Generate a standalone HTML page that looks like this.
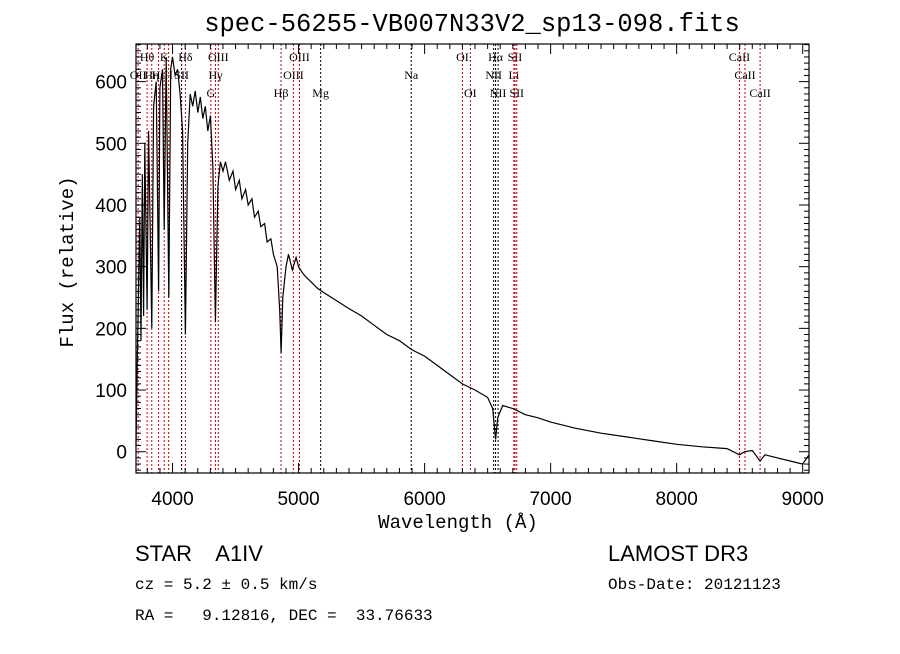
<!DOCTYPE html>
<html><head><meta charset="utf-8"><style>
body{margin:0;background:#fff}
svg text{font-family:"Liberation Sans",sans-serif;white-space:pre}
.lbl{font-family:"Liberation Serif",serif;font-size:12px}
.mono{font-family:"Liberation Mono",monospace}
</style></head><body>
<svg id="chart" width="900" height="649" viewBox="0 0 900 649">
<rect width="900" height="649" fill="#fff"/>
<text x="472" y="31" text-anchor="middle" font-size="25.5" class="mono">spec-56255-VB007N33V2_sp13-098.fits</text>
<g id="lines"></g>
<g id="axes"></g>
<path id="spec" fill="none" stroke="#000" stroke-width="1.2"/>
<rect x="136" y="44" width="673" height="429" fill="none" stroke="#000" stroke-width="1.2"/>
<text x="458" y="528" text-anchor="middle" font-size="19" class="mono">Wavelength (Å)</text>
<text transform="translate(73,262) rotate(-90)" text-anchor="middle" font-size="19" class="mono">Flux (relative)</text>
<text x="135" y="561" font-size="22" font-family="Liberation Serif">STAR    A1IV</text>
<text x="135" y="589" font-size="16" class="mono">cz = 5.2 ± 0.5 km/s</text>
<text x="135" y="620" font-size="16" class="mono">RA =   9.12816, DEC =  33.76633</text>
<text x="608" y="561" font-size="22" font-family="Liberation Serif">LAMOST DR3</text>
<text x="608" y="589" font-size="16" class="mono">Obs-Date: 20121123</text>
</svg>
<script>
const wavelengths=[3710,3720,3740,3750,3760,3770,3780,3798,3810,3835,3850,3870,3889,3900,3920,3934,3950,3970,3985,4000,4020,4040,4060,4080,4102,4120,4140,4160,4180,4200,4220,4240,4260,4280,4300,4320,4340,4360,4380,4400,4420,4450,4480,4500,4530,4550,4580,4600,4630,4650,4680,4700,4730,4750,4780,4800,4830,4850,4861,4875,4900,4920,4950,4980,5000,5030,5050,5100,5150,5200,5300,5400,5500,5600,5700,5800,5900,6000,6100,6200,6300,6400,6500,6540,6563,6580,6620,6700,6800,6900,7000,7200,7400,7600,7800,8000,8200,8400,8498,8540,8600,8662,8700,8800,8900,9000,9050];
const fluxes=[10,150,380,180,450,220,500,230,520,200,560,600,260,590,620,360,640,250,620,640,610,620,580,520,190,500,580,560,585,550,575,540,560,520,545,460,210,430,470,455,470,440,455,425,440,410,425,400,410,380,390,365,370,340,345,320,300,230,160,250,300,320,295,315,300,290,285,275,265,258,245,232,220,205,190,180,165,155,140,125,110,100,88,70,20,55,75,70,60,55,48,38,30,24,18,12,8,5,-5,0,2,-15,-5,-10,-15,-20,-5];
const lineNames=["OII","Hθ","Hη","Hε","K","H","SII","Hδ","G","Hγ","OIII","Hβ","OIII","OIII","Mg","Na","OI","OI","NII","Hα","NII","Li","SII","SII","CaII","CaII","CaII"];
const lineWaves=[3727,3798,3835,3889,3934,3969,4072,4102,4304,4341,4363,4861,4959,5007,5175,5894,6300,6363,6548,6563,6583,6708,6717,6731,8498,8542,8662];
const lineRows=[1,0,1,1,0,1,1,0,2,1,0,2,1,0,2,1,0,2,1,0,2,1,0,2,0,1,2];
const lineRed=[1,1,1,1,1,1,0,1,1,1,1,1,1,1,0,0,1,1,0,0,0,1,1,1,1,1,1];
const xTicks=[4000,5000,6000,7000,8000,9000];
const yTicks=[0,100,200,300,400,500,600];
const X0=136,X1=809,Y0=44,Y1=473,WMIN=3710,WMAX=9050,FMIN=-34.5,FMAX=661;
const xs=w=>X0+(w-WMIN)/(WMAX-WMIN)*(X1-X0);
const ys=f=>Y1-(f-FMIN)/(FMAX-FMIN)*(Y1-Y0);
const NS="http://www.w3.org/2000/svg";
function mk(t,a,p){const e=document.createElementNS(NS,t);for(const k in a)e.setAttribute(k,a[k]);p.appendChild(e);return e;}
const ax=document.getElementById('axes');
for(let w=3800;w<=9000;w+=100){const x=xs(w),maj=w%1000===0,L=maj?10:5;
 const t1=mk('line',{x1:x,x2:x,y1:Y1,y2:Y1-L,stroke:'#000'},ax);
 
 
 mk('line',{x1:x,x2:x,y1:Y0,y2:Y0+L,stroke:'#000'},ax);}
xTicks.forEach(w=>{const t=mk('text',{x:xs(w),y:505,'text-anchor':'middle','font-size':'19'},ax);t.textContent=w;
 
 });
for(let f=-30;f<=660;f+=10){const y=ys(f),maj=f%100===0,L=maj?10:5;
 const t1=mk('line',{x1:X0,x2:X0+L,y1:y,y2:y,stroke:'#000'},ax);
 
 
 mk('line',{x1:X1,x2:X1-L,y1:y,y2:y,stroke:'#000'},ax);}
yTicks.forEach(f=>{const t=mk('text',{x:127,y:ys(f)+7,'text-anchor':'end','font-size':'19'},ax);t.textContent=f;
 
 });
const lg=document.getElementById('lines');
lineWaves.forEach((w,i)=>{const x=xs(w);
 const l=mk('line',{x1:x,x2:x,y1:Y0,y2:Y1,stroke:lineRed[i]?'#c00':'#000','stroke-width':1,'stroke-dasharray':'2,2'},lg);
 
 
 const t=mk('text',{x:x,y:61+lineRows[i]*18,'text-anchor':'middle',class:'lbl'},lg);t.textContent=lineNames[i];
 
 });
let d='';wavelengths.forEach((w,i)=>{d+=(i?'L':'M')+xs(w).toFixed(1)+' '+ys(fluxes[i]).toFixed(1);});
document.getElementById('spec').setAttribute('d',d);
</script>
</body></html>
